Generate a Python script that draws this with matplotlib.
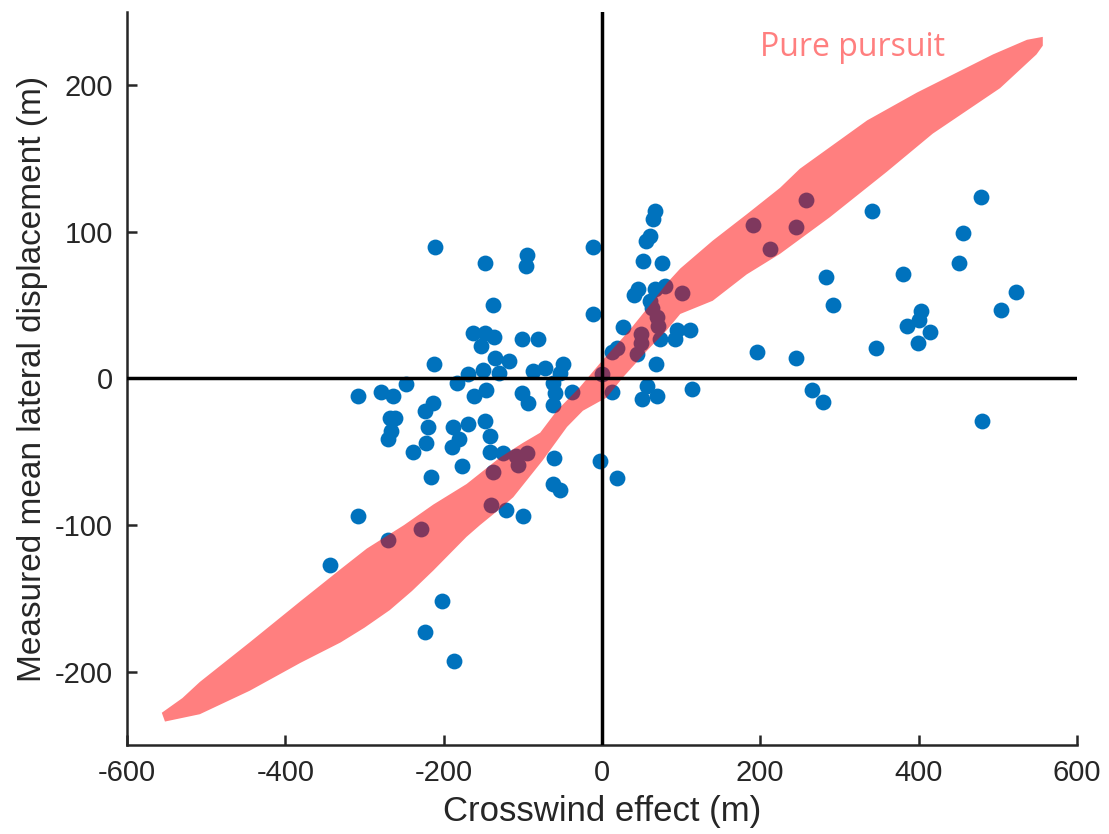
import numpy as np
import matplotlib
matplotlib.use("Agg")
import matplotlib.pyplot as plt

plt.rcParams['font.family'] = ['Liberation Sans', 'DejaVu Sans']
plt.rcParams['axes.unicode_minus'] = False

# measured trials: crosswind effect (m) vs mean lateral displacement (m)
crosswind = [
    -211, -148, -95, -96, -11, -138, -11, -163, -148, -136, -153, -101, -81,
    -135, -117, -212, -150, -130, -169, -87, -72, -49, -53, -183, -248, -279,
    -264, -308, -162, -147, -101, -93, -62, -59, -62, -38, -213, -224, -268,
    -261, -267, -270, -220, -222, -239, -188, -169, -181, -190, -148, -141,
    -141, -177, -216, -61, -3, -62, -53, -121, -100, -308, -344, -202, -224,
    -187, -125, -108, -95, -106, -138, -140, -229, -270,
    19, 0, 13, 27, 19, 13, 46, 41, 52, 76, 67, 65, 61, 56, 67, 80, 61, 63,
    95, 111, 92, 73, 68, 57, 69, 51, 114, 101, 69, 71, 50, 50, 44,
    191, 258, 245, 212,
    341, 479, 456, 451, 283, 381, 292, 523, 504, 403, 400, 386, 414, 399,
    346, 196, 245, 265, 279, 480,
]
displacement = [
    90, 79, 84, 77, 90, 50, 44, 31, 31, 28, 22, 27, 27,
    14, 12, 10, 6, 4, 3, 5, 7, 10, 4, -3, -4, -9,
    -12, -12, -12, -8, -10, -17, -3, -10, -18, -9, -17, -22, -27,
    -27, -36, -41, -33, -44, -50, -33, -31, -41, -47, -29, -39,
    -50, -60, -67, -54, -56, -72, -76, -90, -94, -94, -127, -152, -173,
    -193, -51, -53, -51, -59, -64, -86, -103, -110,
    -68, 3, -9, 35, 21, 18, 61, 57, 80, 79, 114, 109, 97, 94, 61, 63, 53, 48,
    33, 33, 27, 27, 10, -5, -12, -14, -7, 58, 42, 36, 30, 24, 17,
    105, 122, 103, 88,
    114, 124, 99, 79, 69, 71, 50, 59, 47, 46, 40, 36, 32, 24,
    21, 18, 14, -8, -16, -29,
]

# pure pursuit prediction envelope
upper_x = [-556, -530, -508, -445, -381, -330, -297, -250, -213, -171, -129, -100, -78, -57,
           -28, -3, 35, 65, 82, 99, 140, 183, 225, 250, 335, 398, 494, 537, 557]
upper_y = [-228, -218, -207, -180, -152, -130, -116, -100, -86, -72, -54, -44, -37, -22,
           -6, 10, 33, 53, 65, 75, 94, 112, 130, 143, 176, 195, 221, 231, 233]
lower_x = [557, 549, 503, 418, 360, 288, 225, 183, 140, 99, 82, 57, 27, 6, -24,
           -44, -75, -112, -129, -154, -171, -213, -240, -268, -300, -330, -381,
           -445, -508, -552]
lower_y = [227, 221, 198, 167, 141, 110, 85, 71, 53, 44, 33, 19, 1, -13, -22,
           -33, -56, -81, -89, -100, -108, -131, -145, -158, -170, -180, -194,
           -213, -229, -234]

fig = plt.figure(figsize=(11.09, 8.34), dpi=100)
ax = fig.add_axes([0.1145, 0.1067, 0.8565, 0.879])

ax.scatter(crosswind, displacement, s=130, color='#0072BD', linewidths=0, zorder=2)
ax.fill(upper_x + lower_x, upper_y + lower_y, color='red', alpha=0.5, lw=0, zorder=3)
ax.axhline(0, color='black', lw=2.5, zorder=4)
ax.axvline(0, color='black', lw=2.5, zorder=4)

ax.text(317, 226, 'Pure pursuit', color='#FF7F7F', fontsize=23,
        family=['Open Sans', 'DejaVu Sans'], ha='center', va='center')

ax.set_xlim(-600, 600)
ax.set_ylim(-250, 250)
ax.set_xticks(np.arange(-600, 601, 200))
ax.set_yticks(np.arange(-200, 201, 100))
ax.set_xlabel('Crosswind effect (m)', fontsize=25, color='#262626', labelpad=6)
ax.set_ylabel('Measured mean lateral displacement (m)', fontsize=24, color='#262626', labelpad=5)

for side in ['top', 'right']:
    ax.spines[side].set_visible(False)
for side in ['left', 'bottom']:
    ax.spines[side].set_linewidth(1.8)
    ax.spines[side].set_color('#262626')
ax.tick_params(direction='in', length=7, width=1.8, labelsize=21,
               colors='#262626', pad=10)

fig.savefig('out.png', dpi=100)
